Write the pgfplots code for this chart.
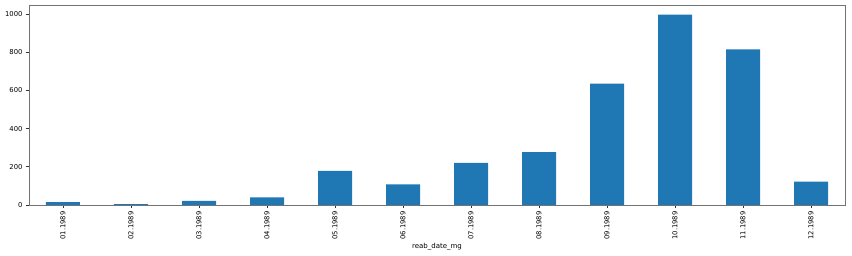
\documentclass[border=0pt]{standalone}
\usepackage{pgfplots}
\pgfplotsset{compat=1.18}
\usepackage{fontspec}
\setmainfont{DejaVu Sans}
\definecolor{mplblue}{HTML}{1F77B4}
\begin{document}
\begin{tikzpicture}
\begin{axis}[
  scale only axis,
  width=816pt, height=200pt,
  xmin=-0.5, xmax=11.5,
  ymin=0, ymax=1047,
  xtick={0,...,11},
  xticklabels={01.1989,02.1989,03.1989,04.1989,05.1989,06.1989,07.1989,08.1989,09.1989,10.1989,11.1989,12.1989},
  ytick={0,200,400,600,800,1000},
  x tick label style={rotate=90, anchor=east, font=\fontsize{6.8}{7.5}\selectfont},
  y tick label style={font=\fontsize{6.8}{7.5}\selectfont},
  /pgf/number format/assume math mode=true,
  /pgf/number format/1000 sep={},
  tick align=outside,
  tick pos=left,
  major tick length=3pt,
  axis line style={draw=black!55, line width=0.8pt},
  every tick/.style={black!80, line width=0.6pt},
  xlabel={reab\_date\_mg},
  xlabel style={font=\fontsize{7}{8}\selectfont, yshift=3pt},
  ymajorgrids=false,
  clip=false,
]
\addplot[ybar, bar width=34pt, fill=mplblue, draw=none, bar shift=0pt]
coordinates {
(0,15) (1,5) (2,21) (3,40) (4,178) (5,108) (6,220) (7,277) (8,636) (9,997) (10,815) (11,122)
};
\end{axis}
\path[use as bounding box] ([xshift=-29pt,yshift=-51pt]current axis.south west) rectangle ([xshift=7pt,yshift=5pt]current axis.north east);
\end{tikzpicture}
\end{document}
